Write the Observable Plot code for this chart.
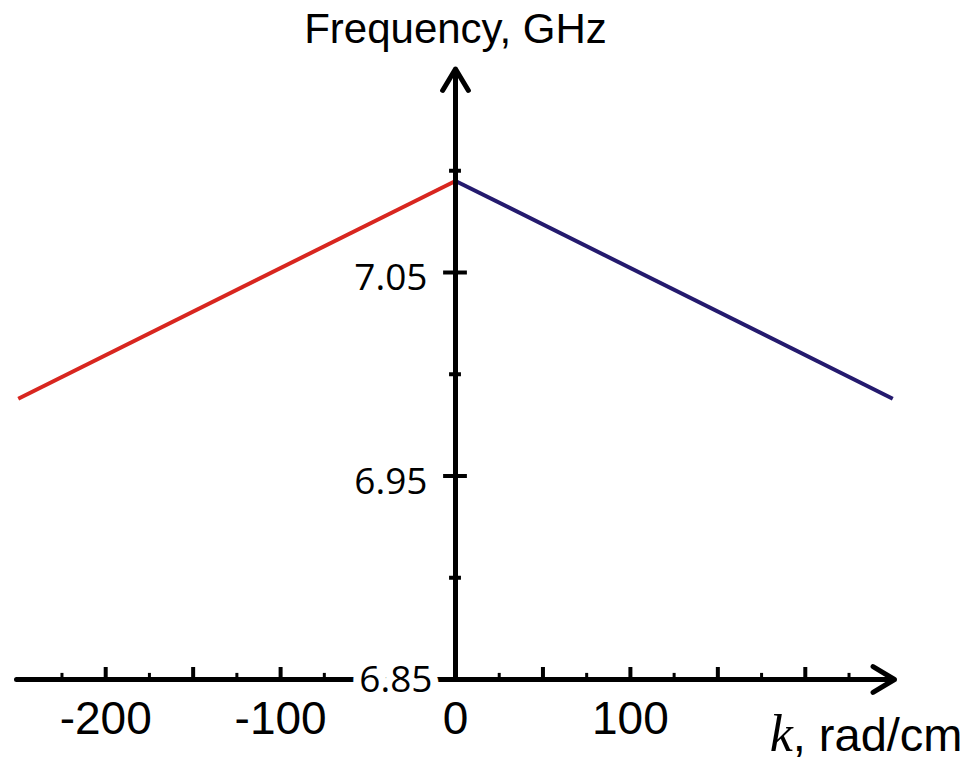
<!DOCTYPE html>
<html>
<head>
<meta charset="utf-8">
<script src="https://cdn.jsdelivr.net/npm/d3@7"></script>
<script src="https://cdn.jsdelivr.net/npm/@observablehq/plot@0.6"></script>
<style>
  html, body { margin: 0; padding: 0; background: #fff; }
  #chart { width: 969px; height: 762px; }
</style>
</head>
<body>
<div id="chart"></div>
<script>
// ---- data ----
const kRed = [-250, 0];
const fRed = [6.988, 7.095];
const kBlue = [0, 250];
const fBlue = [7.095, 6.988];

// axis extents (k in rad/cm, frequency in GHz)
const kDomain = [-251, 251];
const fDomain = [6.85, 7.15];

// ticks and labels
const xMajorTicks = [-200, -150, -100, -50, 50, 100, 150, 200];
const xMinorTicks = [-225, -175, -125, -75, -25, 25, 75, 125, 175, 225];
const xTickLabels = [-200, -100, 0, 100];
const yMajorTicks = [6.95, 7.05];
const yMinorTicks = [6.90, 7.00, 7.10];
const yTickLabels = [6.85, 6.95, 7.05];
const yTitle = "Frequency, GHz";
const xTitle = "k, rad/cm";

// tick lengths in data units (style)
const xMajorLen = 0.0059, xMinorLen = 0.003;
const yMajorHalf = 6.8, yMinorHalf = 3.4;

const redData = kRed.map((k, i) => ({k, f: fRed[i]}));
const blueData = kBlue.map((k, i) => ({k, f: fBlue[i]}));

const sans = "'Liberation Sans', Arial, sans-serif";
const labelFont = "'Open Sans', 'Noto Sans', sans-serif";

const chart = Plot.plot({
  width: 969,
  height: 762,
  marginLeft: 16,
  marginRight: 75,
  marginTop: 68.5,
  marginBottom: 83,
  x: {domain: kDomain, axis: null},
  y: {domain: fDomain, axis: null},
  style: {background: "white", fontFamily: sans, overflow: "visible"},
  marks: [
    // dispersion branches
    Plot.line(redData, {x: "k", y: "f", stroke: "#d8261f", strokeWidth: 4, strokeLinecap: "butt"}),
    Plot.line(blueData, {x: "k", y: "f", stroke: "#241a6e", strokeWidth: 4, strokeLinecap: "butt"}),
    // x axis with arrow
    Plot.arrow([0], {x1: () => kDomain[0], y1: () => fDomain[0], x2: () => kDomain[1], y2: () => fDomain[0],
      stroke: "black", strokeWidth: 5, headLength: 7.5, headAngle: 62}),
    // y axis with arrow
    Plot.arrow([0], {x1: () => 0, y1: () => fDomain[0], x2: () => 0, y2: () => fDomain[1],
      stroke: "black", strokeWidth: 5, headLength: 7.5, headAngle: 62}),
    // x ticks (pointing up)
    Plot.ruleX(xMajorTicks, {x: d => d, y1: () => fDomain[0], y2: () => fDomain[0] + xMajorLen, stroke: "black", strokeWidth: 4}),
    Plot.ruleX(xMinorTicks, {x: d => d, y1: () => fDomain[0], y2: () => fDomain[0] + xMinorLen, stroke: "black", strokeWidth: 3}),
    // y ticks (crossing)
    Plot.ruleY(yMajorTicks, {y: d => d, x1: () => -yMajorHalf, x2: () => yMajorHalf, stroke: "black", strokeWidth: 4}),
    Plot.ruleY(yMinorTicks, {y: d => d, x1: () => -yMinorHalf, x2: () => yMinorHalf, stroke: "black", strokeWidth: 4}),
    // y tick labels
    Plot.text(yTickLabels.filter(v => v !== fDomain[0]), {x: () => 0, y: d => d, text: d => d.toFixed(2),
      textAnchor: "end", dx: -28, dy: 6, fontSize: 37, fontFamily: labelFont, fill: "black"}),
    Plot.text(yTickLabels.filter(v => v === fDomain[0]), {x: () => 0, y: d => d, text: d => d.toFixed(2),
      textAnchor: "end", dx: -23, dy: 1, fontSize: 37, fontFamily: labelFont, fill: "black",
      stroke: "white", strokeWidth: 16, paintOrder: "stroke"}),
    // x tick labels
    Plot.text(xTickLabels, {x: d => d, y: () => fDomain[0], text: d => String(d),
      dy: 39.3, fontSize: 46, fontFamily: sans, fill: "black"}),
    // axis titles
    Plot.text([yTitle], {x: () => 0, y: () => fDomain[1], text: d => d,
      dy: -39.9, fontSize: 42, fontFamily: sans, fill: "black"}),
    Plot.text([xTitle], {x: () => kDomain[1], y: () => fDomain[0], text: d => d,
      textAnchor: "end", dx: 68, dy: 56, fontSize: 47, fontFamily: sans, fill: "black", className: "klabel"})
  ]
});

// italic serif "k" in the x-axis title
const kt = chart.querySelector(".klabel text");
if (kt) {
  const full = kt.textContent;
  kt.textContent = "";
  const ns = "http://www.w3.org/2000/svg";
  const t1 = document.createElementNS(ns, "tspan");
  t1.setAttribute("font-family", "'Liberation Serif', 'Times New Roman', serif");
  t1.setAttribute("font-style", "italic");
  t1.setAttribute("font-size", "52");
  t1.textContent = full.slice(0, 1);
  const t2 = document.createElementNS(ns, "tspan");
  t2.textContent = full.slice(1);
  kt.appendChild(t1);
  kt.appendChild(t2);
}

document.getElementById("chart").appendChild(chart);
</script>
</body>
</html>
